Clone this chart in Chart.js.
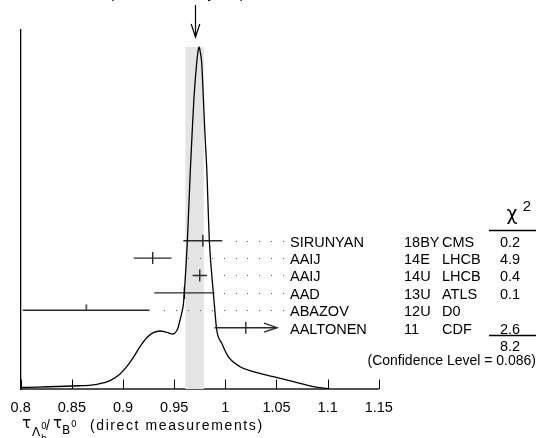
<!DOCTYPE html>
<html><head><meta charset="utf-8">
<script src="https://cdn.jsdelivr.net/npm/chart.js@4/dist/chart.umd.min.js"></script>
<style>html,body{margin:0;padding:0;background:#fff}canvas{display:block}</style>
</head><body>
<canvas id="c" width="552" height="438"></canvas>
<script>
// ---- data ----
const authors     = ['SIRUNYAN', 'AAIJ', 'AAIJ', 'AAD', 'ABAZOV', 'AALTONEN'];
const docIds      = ['18BY', '14E', '14U', '13U', '12U', '11'];
const experiments = ['CMS', 'LHCB', 'LHCB', 'ATLS', 'D0', 'CDF'];
const values      = [0.978, 0.929, 0.975, 0.960, 0.864, 1.020];
const errors      = [0.019, 0.0185, 0.007, 0.0295, 0.062, 0.0305];
const chi2Values  = ['0.2', '4.9', '0.4', '0.1', '', '2.6'];
const usedInFit   = [true, true, true, true, false, true];
const chi2Total   = '8.2';
const confidenceLevel = '0.086';
const weightedAverage = 0.970;
const scaledError     = 0.009;
const scaleFactor     = '1.4';
const xTicks = [0.8, 0.85, 0.9, 0.95, 1, 1.05, 1.1, 1.15];
// ideogram curve (x value, height)
const curveX = [0.800, 0.850, 0.8744, 0.8873, 0.8971, 0.9036, 0.9101, 0.9166, 0.9232, 0.9296,
                0.9362, 0.9427, 0.9492, 0.9523, 0.9541, 0.9557, 0.9574, 0.9589, 0.9599, 0.9629,
                0.9658, 0.9677, 0.9694, 0.9720, 0.9732, 0.9743, 0.9755, 0.9769, 0.9785, 0.9799,
                0.9819, 0.9844, 0.9883, 0.9893, 0.9916, 0.9965, 1.0029, 1.0144, 1.0274, 1.0469,
                1.0665, 1.0860, 1.1007];
const curveY = [1.5, 3, 4.7, 8.3, 15, 22.3, 31.7, 42.3, 51.3, 56.3,
                58, 56.7, 55, 58, 62.3, 69, 76, 84, 96, 148,
                219, 259, 292, 326, 337, 342, 337, 326, 292, 259,
                219, 148, 96, 84, 59, 45.7, 32.3, 22.3, 17.3, 12.3,
                7.3, 2.3, 0.3];

const FONT = '"Liberation Sans", Arial, Helvetica, sans-serif';
const BAR = '#2a2a2a';

// half tick image for the measurement not used in the fit
const halfTick = document.createElement('canvas');
halfTick.width = 3; halfTick.height = 13;
(function(){ const g = halfTick.getContext('2d'); g.strokeStyle = BAR; g.lineWidth = 1.4;
  g.beginPath(); g.moveTo(1.5, 0.5); g.lineTo(1.5, 6.5); g.stroke(); })();

const datasets = [];
datasets.push({
  type: 'line', label: 'ideogram',
  data: curveX.map((x, i) => ({x, y: curveY[i]})),
  yAxisID: 'y', borderColor: '#000', borderWidth: 1.3, pointRadius: 0,
  cubicInterpolationMode: 'monotone', fill: false, order: 0
});
values.forEach((v, i) => {
  datasets.push({
    type: 'line', label: authors[i],
    data: [{x: v - errors[i], y: i}, {x: v + errors[i], y: i}],
    yAxisID: 'y2', borderColor: BAR, borderWidth: 1.4, pointRadius: 0, tension: 0, order: 1
  });
});
datasets.push({
  type: 'scatter', label: 'centres',
  data: values.map((v, i) => ({x: v, y: i})),
  yAxisID: 'y2', borderColor: BAR, backgroundColor: BAR, borderWidth: 1.4,
  pointStyle: usedInFit.map(u => u ? 'line' : halfTick),
  rotation: usedInFit.map(u => u ? 90 : 0),
  pointRadius: 6, order: 1
});

const extras = {
  id: 'extras',
  beforeDatasetsDraw(chart) {
    const ctx = chart.ctx, xs = chart.scales.x, ys = chart.scales.y, rs = chart.scales.y2;
    const peak = Math.max(...curveY);
    ctx.save();
    // average band
    ctx.fillStyle = '#e4e4e4';
    const bx0 = xs.getPixelForValue(weightedAverage - scaledError);
    const bx1 = xs.getPixelForValue(weightedAverage + scaledError);
    const by0 = ys.getPixelForValue(peak);
    ctx.fillRect(bx0, by0, bx1 - bx0, ys.getPixelForValue(0) - by0);
    // dotted leaders
    ctx.fillStyle = '#555';
    const start = xs.getPixelForValue(0.94);
    const step = 11.93;
    values.forEach((v, i) => {
      if (v + errors[i] > 1.04) return;
      const end = xs.getPixelForValue(v + errors[i]);
      const y = Math.round(rs.getPixelForValue(i));
      for (let k = -12; k < 12; k++) {
        const x = start + k * step;
        if (x - end >= 9 && x < 286) ctx.fillRect(Math.round(x), y, 1, 1);
      }
    });
    ctx.restore();
  },
  afterDraw(chart) {
    const ctx = chart.ctx, xs = chart.scales.x, ys = chart.scales.y, rs = chart.scales.y2;
    const bottom = chart.chartArea.bottom;
    ctx.save();
    // inward ticks
    ctx.strokeStyle = '#000'; ctx.lineWidth = 1;
    xTicks.forEach(t => {
      const x = Math.round(xs.getPixelForValue(t)) + 0.5;
      ctx.beginPath(); ctx.moveTo(x, bottom); ctx.lineTo(x, bottom - 9.5); ctx.stroke();
    });
    // arrow for AALTONEN (bar reaching label)
    ctx.strokeStyle = BAR; ctx.lineWidth = 1.4;
    values.forEach((v, i) => {
      if (v + errors[i] > 1.04) {
        const x = xs.getPixelForValue(v + errors[i]);
        const y = rs.getPixelForValue(i);
        ctx.beginPath(); ctx.moveTo(x - 13, y - 4.5); ctx.lineTo(x, y); ctx.lineTo(x - 13, y + 4.5); ctx.stroke();
      }
    });
    // average arrow at top
    const ax = Math.round(xs.getPixelForValue(weightedAverage)) + 0.5;
    ctx.strokeStyle = '#000'; ctx.lineWidth = 1.2;
    ctx.beginPath(); ctx.moveTo(ax, 5); ctx.lineTo(ax, 37); ctx.stroke();
    ctx.beginPath(); ctx.moveTo(ax - 4.3, 24); ctx.lineTo(ax, 37); ctx.lineTo(ax + 4.3, 24); ctx.stroke();
    // clipped heading text
    ctx.fillStyle = '#000';
    ctx.font = '15px ' + FONT;
    ctx.textAlign = 'right'; ctx.textBaseline = 'alphabetic';
    ctx.fillText('0.970±0.009 (Error scaled by ' + scaleFactor + ')', 245, -2);
    // row labels
    ctx.font = '14.5px ' + FONT;
    authors.forEach((a, i) => {
      const y = rs.getPixelForValue(i) + 6;
      ctx.textAlign = 'left';
      ctx.fillText(a, 290, y);
      ctx.fillText(docIds[i], 404, y);
      ctx.fillText(experiments[i], 442, y);
      ctx.textAlign = 'center';
      ctx.fillText(chi2Values[i], 510, y);
    });
    // chi2 header
    ctx.textAlign = 'center';
    ctx.font = '19px "DejaVu Sans", sans-serif';
    ctx.fillText('χ', 512, 219.5);
    ctx.font = '15px ' + FONT;
    ctx.fillText('2', 527, 210.5);
    ctx.lineWidth = 1.3;
    ctx.beginPath(); ctx.moveTo(489, 230.5); ctx.lineTo(536, 230.5); ctx.stroke();
    ctx.beginPath(); ctx.moveTo(489, 335.5); ctx.lineTo(536, 335.5); ctx.stroke();
    ctx.font = '14.5px ' + FONT;
    ctx.fillText(chi2Total, 510, 351);
    ctx.textAlign = 'right';
    ctx.font = '14px ' + FONT;
    ctx.fillText('(Confidence Level = ' + confidenceLevel + ')', 536, 364.5);
    // axis title
    ctx.textAlign = 'left';
    ctx.font = '15px "DejaVu Sans", sans-serif';
    ctx.fillText('τ', 22, 428);
    ctx.font = '12px "DejaVu Sans", sans-serif';
    ctx.fillText('Λ', 32, 436);
    ctx.font = '9px "DejaVu Sans", sans-serif';
    ctx.fillText('0', 41, 429);
    ctx.fillText('b', 41, 441);
    ctx.font = '14px ' + FONT;
    ctx.fillText('/', 46, 430);
    ctx.font = '15px "DejaVu Sans", sans-serif';
    ctx.fillText('τ', 53, 428);
    ctx.font = '12px "DejaVu Sans", sans-serif';
    ctx.fillText('B', 62, 434);
    ctx.font = '9px "DejaVu Sans", sans-serif';
    ctx.fillText('0', 71, 427);
    ctx.font = '14px ' + FONT;
    ctx.letterSpacing = '1.6px';
    ctx.fillText('(direct measurements)', 90, 430);
    ctx.restore();
  }
};

new Chart(document.getElementById('c'), {
  data: { datasets },
  options: {
    responsive: false, animation: false, devicePixelRatio: 1,
    layout: { padding: { left: 20.7, right: 173.2, top: 30, bottom: 0 } },
    plugins: { legend: { display: false }, tooltip: { enabled: false } },
    scales: {
      x: {
        type: 'linear', min: 0.8, max: 1.15,
        afterBuildTicks: s => { s.ticks = xTicks.map(v => ({value: v})); },
        afterFit: s => { s.height = 49; },
        grid: { display: false, drawTicks: false },
        border: { display: true, color: '#555', width: 2 },
        ticks: { autoSkip: false, maxRotation: 0, padding: 10, color: '#000',
                 font: { family: FONT, size: 14.5 },
                 callback: v => String(v) }
      },
      y: {
        type: 'linear', min: 0, max: 359,
        afterFit: s => { s.width = 0; },
        grid: { display: false, drawTicks: false },
        border: { display: true, color: '#000', width: 1.3 },
        ticks: { display: false }
      },
      y2: {
        type: 'linear', display: false, reverse: true, min: -12.109, max: 8.523
      }
    }
  },
  plugins: [extras]
});
</script>
</body></html>
